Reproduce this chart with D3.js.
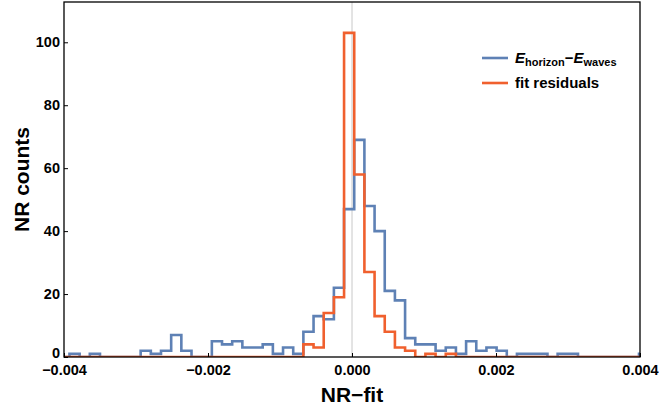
<!DOCTYPE html>
<html>
<head>
<meta charset="utf-8">
<script src="https://cdn.jsdelivr.net/npm/d3@7"></script>
<style>
  body { margin: 0; background: #fff; }
  text { font-family: "Liberation Sans", Arial, sans-serif; font-weight: bold; }
</style>
</head>
<body>
<svg id="chart" width="659" height="413"></svg>
<script>
// histogram bins: first bin starts at binStart, all bins have width binWidth
var binStart = -0.003924;
var binWidth = 0.00014125;

var waveCounts = [1, 0, 1, 0, 0, 0, 0, 2, 1, 2, 7, 2, 0, 0, 5, 4, 5, 3, 3, 4, 1, 3, 1, 8, 13, 12, 22,
                  47, 69, 48, 40, 21, 18, 6, 4, 4, 2, 3, 1, 5, 2, 3, 2, 0, 1, 1, 1, 0, 1, 1, 0, 0, 0, 0, 0, 0, 1];
var fitCounts  = [0, 0, 0, 0, 0, 0, 0, 0, 0, 0, 0, 0, 0, 0, 0, 0, 0, 0, 0, 0, 0, 0, 0, 4, 3, 14, 19,
                  103, 58, 27, 13, 8, 3, 2, 0, 1, 0, 1, 0, 0, 0, 0, 0, 0, 0, 0, 0, 0, 0, 0, 0, 0, 0, 0, 0, 0, 0];

var xTicks = [-0.004, -0.002, 0, 0.002, 0.004];
var yTicks = [0, 20, 40, 60, 80, 100];

var svg = d3.select("#chart");
var pLeft = 64, pRight = 640, pTop = 2, pBottom = 357;

var x = d3.scaleLinear().domain([-0.004, 0.004]).range([pLeft, pRight]);
var y = d3.scaleLinear().domain([0, 112.8]).range([pBottom, pTop]);

svg.append("clipPath").attr("id", "plotclip")
    .append("rect").attr("x", pLeft).attr("y", pTop).attr("width", pRight - pLeft).attr("height", pBottom - pTop);

// zero line
svg.append("line")
    .attr("x1", x(0)).attr("x2", x(0)).attr("y1", pTop).attr("y2", pBottom)
    .attr("stroke", "#c8c8c8").attr("stroke-width", 1);

function stepPoints(counts) {
    var pts = [[-0.0045, 0]];
    counts.forEach(function(c, i) { pts.push([binStart + i * binWidth, c]); });
    pts.push([binStart + counts.length * binWidth, 0]);
    pts.push([0.0045, 0]);
    return pts;
}

var line = d3.line()
    .x(function(d) { return x(d[0]); })
    .y(function(d) { return y(d[1]); })
    .curve(d3.curveStepAfter);

var plot = svg.append("g").attr("clip-path", "url(#plotclip)");

plot.append("path").datum(stepPoints(waveCounts))
    .attr("d", line).attr("fill", "none")
    .attr("stroke", "#5e81b5").attr("stroke-width", 2.6);

plot.append("path").datum(stepPoints(fitCounts))
    .attr("d", line).attr("fill", "none")
    .attr("stroke", "#f0602e").attr("stroke-width", 2.6);

// frame
svg.append("rect")
    .attr("x", pLeft).attr("y", pTop).attr("width", pRight - pLeft).attr("height", pBottom - pTop)
    .attr("fill", "none").attr("stroke", "#000").attr("stroke-width", 1.3);

// axes
var xAxis = d3.axisBottom(x).tickValues(xTicks).tickSize(-4).tickSizeOuter(0)
    .tickFormat(function(d) { return d3.format(".3f")(d).replace("-", "\u2212"); });
var gx = svg.append("g").attr("transform", "translate(0," + pBottom + ")").call(xAxis);
gx.select(".domain").remove();
gx.selectAll("text").attr("font-size", 14.5).attr("dy", "1.05em").attr("fill", "#000");

var yAxis = d3.axisLeft(y).tickValues(yTicks).tickSize(-4).tickSizeOuter(0);
var gy = svg.append("g").attr("transform", "translate(" + pLeft + ",0)").call(yAxis);
gy.select(".domain").remove();
gy.selectAll("text").attr("font-size", 14.5).attr("fill", "#000").attr("x", -4);
gy.selectAll(".tick").filter(function(d) { return d === 0; }).select("text").attr("dy", "0.0em");

// axis labels
svg.append("text").attr("x", x(0)).attr("y", 402)
    .attr("text-anchor", "middle").attr("font-size", 21).text("NR\u2212fit");
svg.append("text").attr("transform", "translate(29," + ((pTop + pBottom) / 2) + ") rotate(-90)")
    .attr("text-anchor", "middle").attr("font-size", 21).text("NR counts");

// legend
var legend = svg.append("g");
legend.append("line").attr("x1", 482).attr("x2", 508).attr("y1", 58).attr("y2", 58)
    .attr("stroke", "#5e81b5").attr("stroke-width", 2.6);
legend.append("line").attr("x1", 482).attr("x2", 508).attr("y1", 83).attr("y2", 83)
    .attr("stroke", "#f0602e").attr("stroke-width", 2.6);

var t1 = legend.append("text").attr("x", 515).attr("y", 63).attr("font-size", 15);
t1.append("tspan").attr("font-style", "italic").text("E");
t1.append("tspan").attr("font-size", 11).attr("dy", 3).text("horizon");
t1.append("tspan").attr("dy", -3).text("\u2212");
t1.append("tspan").attr("font-style", "italic").text("E");
t1.append("tspan").attr("font-size", 11).attr("dy", 3).text("waves");

legend.append("text").attr("x", 515).attr("y", 88).attr("font-size", 15).text("fit residuals");
</script>
</body>
</html>
